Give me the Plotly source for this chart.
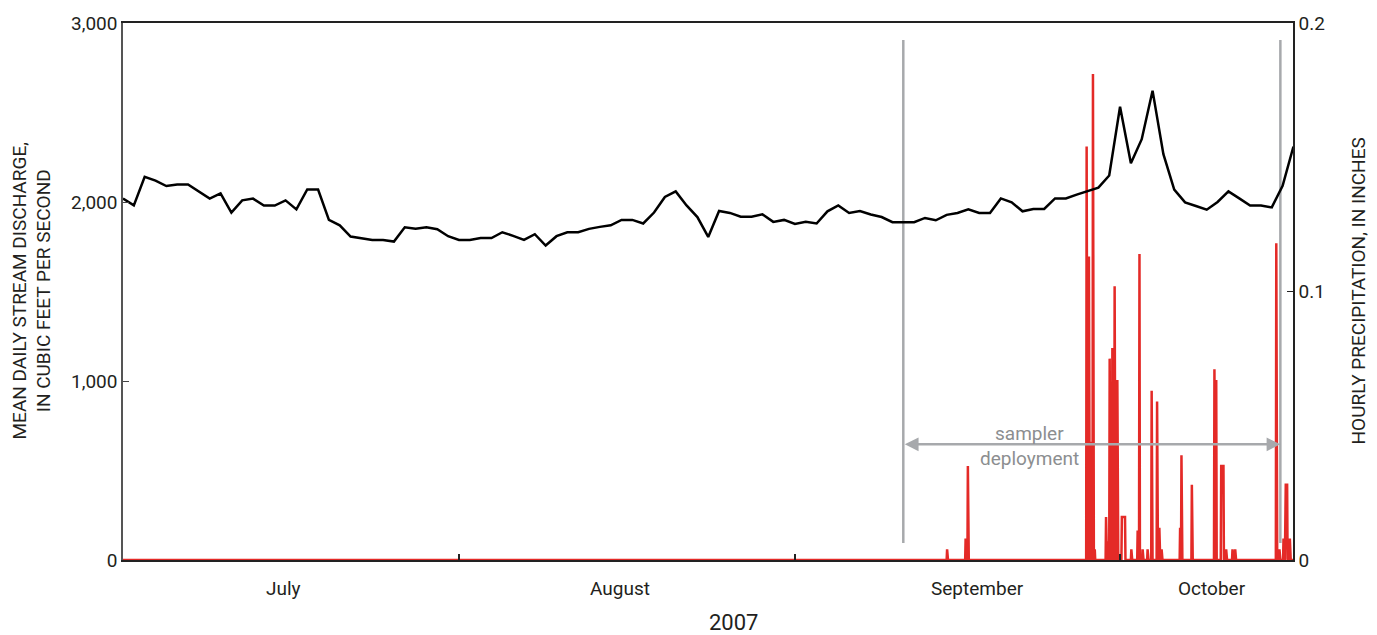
import pandas as pd
import plotly.graph_objects as go

# ---------------- data ----------------
start_date = "2007-07-01"
discharge_cfs = [
    2019, 1981, 2141, 2119, 2089, 2098, 2098, 2058, 2019, 2048,
    1941, 2009, 2019, 1980, 1980, 2009, 1959, 2070, 2070, 1900,
    1870, 1807, 1798, 1788, 1788, 1779, 1859, 1850, 1859, 1848,
    1809, 1788, 1788, 1799, 1799, 1831, 1811, 1788, 1820, 1757,
    1809, 1831, 1831, 1850, 1861, 1870, 1900, 1900, 1880, 1941,
    2028, 2059, 1981, 1916, 1805, 1950, 1939, 1918, 1918, 1931,
    1889, 1900, 1877, 1889, 1880, 1948, 1981, 1939, 1950, 1930,
    1916, 1887, 1887, 1887, 1911, 1898, 1928, 1939, 1959, 1939,
    1939, 2020, 1998, 1948, 1961, 1961, 2020, 2020, 2041, 2061,
    2080, 2148, 2532, 2217, 2351, 2622, 2267, 2069, 1998, 1978,
    1957, 2000, 2059, 2020, 1980, 1980, 1970, 2090, 2310,
]

precip_time = [
    "2007-09-15 01:00", "2007-09-16 18:00", "2007-09-16 23:00",
    "2007-09-27 22:00", "2007-09-28 03:00", "2007-09-28 07:00",
    "2007-09-28 12:00", "2007-09-28 16:00",
    "2007-09-29 17:00", "2007-09-29 21:00", "2007-09-30 01:00",
    "2007-09-30 07:00", "2007-09-30 12:00", "2007-09-30 18:00",
    "2007-10-01 04:00", "2007-10-01 05:00", "2007-10-01 06:00",
    "2007-10-01 07:00", "2007-10-01 08:00", "2007-10-01 09:00",
    "2007-10-01 10:00", "2007-10-01 11:00",
    "2007-10-02 01:00", "2007-10-02 15:00", "2007-10-02 19:00",
    "2007-10-03 02:00", "2007-10-03 13:00", "2007-10-03 22:00",
    "2007-10-04 10:00", "2007-10-04 15:00", "2007-10-04 20:00",
    "2007-10-06 13:00", "2007-10-06 16:00", "2007-10-07 15:00",
    "2007-10-09 17:00", "2007-10-09 21:00",
    "2007-10-10 08:00", "2007-10-10 09:00", "2007-10-10 10:00",
    "2007-10-10 11:00", "2007-10-10 12:00", "2007-10-10 13:00",
    "2007-10-10 19:00", "2007-10-11 09:00", "2007-10-11 15:00",
    "2007-10-15 10:00", "2007-10-15 17:00", "2007-10-16 02:00",
    "2007-10-16 06:00", "2007-10-16 07:00", "2007-10-16 08:00",
    "2007-10-16 09:00", "2007-10-16 10:00",
    "2007-10-16 13:00", "2007-10-16 16:00",
]
precip_in = [
    0.004, 0.008, 0.035,
    0.154, 0.113, 0.044,
    0.181, 0.004,
    0.016, 0.007, 0.075,
    0.079, 0.102, 0.067,
    0.016, 0.016, 0.016,
    0.016, 0.016, 0.016,
    0.016, 0.016,
    0.004, 0.011, 0.114,
    0.004, 0.004, 0.063,
    0.059, 0.012, 0.004,
    0.012, 0.039, 0.028,
    0.071, 0.067,
    0.035, 0.035, 0.035,
    0.035, 0.035, 0.035,
    0.004, 0.004, 0.004,
    0.118, 0.004, 0.008,
    0.028, 0.028, 0.028,
    0.028, 0.028,
    0.008, 0.008,
]
precip_start = "2007-07-01 00:00"
precip_end = "2007-10-17 00:00"

month_labels = ["July", "August", "September", "October"]
month_label_pos = ["2007-07-15 19:00", "2007-08-15 20:00",
                   "2007-09-17 21:00", "2007-10-09 12:00"]
month_ticks = ["2007-08-01", "2007-09-01", "2007-10-01"]

deploy_start = "2007-09-11 00:00"
deploy_end = "2007-10-15 19:00"

# ---------------- build series ----------------
days = pd.date_range(start_date, periods=len(discharge_cfs), freq="D")
hours = pd.date_range(precip_start, precip_end, freq="h")
precip = pd.Series(0.0, index=hours)
precip.loc[pd.to_datetime(precip_time)] = precip_in

FONT = "Roboto, Liberation Sans, sans-serif"
GRAY = "#a7a9ac"
RED = "#e42a27"
TXT = "#231f20"

fig = go.Figure()
fig.add_trace(go.Scatter(
    x=precip.index, y=precip.values, mode="lines",
    line=dict(color=RED, width=2.5), yaxis="y", showlegend=False,
    hoverinfo="skip"))
fig.add_trace(go.Scatter(
    x=days, y=discharge_cfs, mode="lines",
    line=dict(color="black", width=2.5), yaxis="y2", showlegend=False))

# sampler deployment lines
for d in (deploy_start, deploy_end):
    fig.add_shape(type="line", xref="x", yref="y2", x0=d, x1=d, y0=95, y1=2905,
                  line=dict(color=GRAY, width=2.5), layer="below")

fig.add_annotation(x=deploy_end, y=646, ax=deploy_start, ay=646,
                   xref="x", yref="y2", axref="x", ayref="y2",
                   text="", showarrow=True, arrowhead=2, arrowside="end+start",
                   arrowsize=1.1, arrowwidth=2.5, arrowcolor=GRAY,
                   startarrowhead=2, startarrowsize=1.1)
fig.add_annotation(x="2007-09-22 16:00", y=646, xref="x", yref="y2",
                   text="sampler", showarrow=False, yshift=11,
                   font=dict(family=FONT, size=19, color="#8c8e90"))
fig.add_annotation(x="2007-09-22 16:00", y=646, xref="x", yref="y2",
                   text="deployment", showarrow=False, yshift=-14,
                   font=dict(family=FONT, size=19, color="#8c8e90"))

for lab, pos in zip(month_labels, month_label_pos):
    fig.add_annotation(x=pos, y=0, xref="x", yref="paper", yanchor="middle",
                       xanchor="center", yshift=-28, text=lab, showarrow=False,
                       font=dict(family=FONT, size=19, color=TXT))

fig.add_annotation(x=(733 - 123) / 1170, y=0, xref="paper", yref="paper",
                   xanchor="center", yanchor="middle", yshift=-62,
                   text="2007", showarrow=False,
                   font=dict(family=FONT, size=22, color=TXT))

fig.add_annotation(x=0, y=0.5, xref="paper", yref="paper", xshift=-92,
                   xanchor="center", yanchor="middle",
                   textangle=-90, showarrow=False,
                   text="MEAN DAILY STREAM DISCHARGE,<br>IN CUBIC FEET PER SECOND",
                   font=dict(family=FONT, size=19, color=TXT))
fig.add_annotation(x=1, y=0.5, xref="paper", yref="paper", xshift=65,
                   xanchor="center", yanchor="middle",
                   textangle=-90, showarrow=False,
                   text="HOURLY PRECIPITATION, IN INCHES",
                   font=dict(family=FONT, size=19, color=TXT))

fig.update_layout(
    width=1377, height=635,
    margin=dict(l=123, r=84, t=21, b=75),
    paper_bgcolor="white", plot_bgcolor="white",
    font=dict(family=FONT, size=19, color=TXT),
    xaxis=dict(
        type="date", range=["2007-07-01 00:00", "2007-10-16 23:00"],
        tickvals=month_ticks, ticktext=["", "", ""],
        ticks="inside", ticklen=6, tickcolor="#222", tickwidth=1.5,
        showgrid=False, zeroline=False,
        showline=True, linecolor="#222", linewidth=1.5, mirror=True,
    ),
    yaxis=dict(
        side="right", range=[0, 0.2], tickvals=[0, 0.1, 0.2],
        ticktext=["0", "0.1", "0.2"],
        ticks="inside", ticklen=6, tickcolor="#222",
        showgrid=False, zeroline=False,
        showline=True, linecolor="#222", linewidth=1.5,
        tickfont=dict(family=FONT, size=19, color=TXT),
    ),
    yaxis2=dict(
        overlaying="y", side="left", range=[0, 3000],
        tickvals=[0, 1000, 2000, 3000], tickformat=",",
        ticks="inside", ticklen=6, tickcolor="#444",
        showgrid=False, zeroline=False,
        showline=True, linecolor="#555", linewidth=1.5,
        tickfont=dict(family=FONT, size=19, color=TXT),
    ),
)

fig.write_html("out.html",
               config={"displayModeBar": False},
               post_script="document.body.style.margin='0';"
                           "document.body.style.overflow='hidden';")
